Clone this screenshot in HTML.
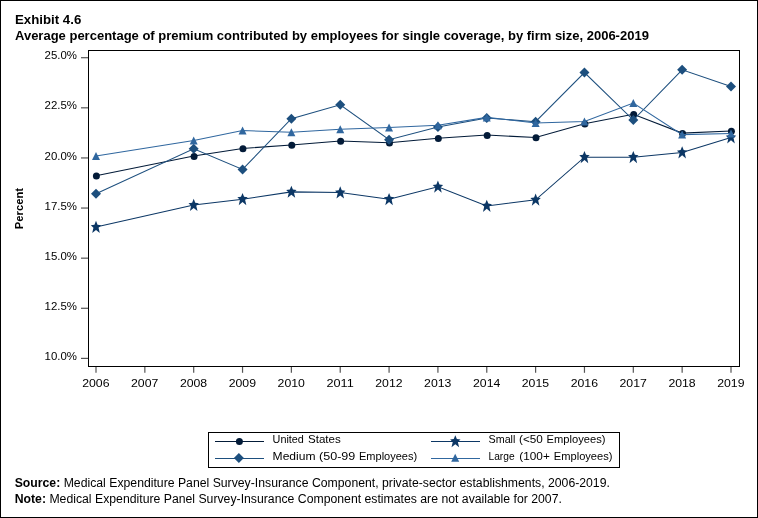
<!DOCTYPE html>
<html><head><meta charset="utf-8"><title>Exhibit 4.6</title>
<style>
html,body{margin:0;padding:0;background:#fff;}
body{width:758px;height:518px;position:relative;overflow:hidden;font-family:"Liberation Sans",sans-serif;}
#b{position:absolute;left:0;top:0;width:756px;height:516px;border:1px solid #000;}
</style></head><body>
<div id="b"></div>
<svg width="758" height="518" viewBox="0 0 758 518" style="position:absolute;left:0;top:0;will-change:transform"><rect x="88.5" y="50.5" width="651" height="316" fill="none" stroke="#000" stroke-width="1" shape-rendering="crispEdges"/><g stroke="#555" stroke-width="1.2"><line x1="81" y1="57.7" x2="88" y2="57.7"/><line x1="81" y1="107.82" x2="88" y2="107.82"/><line x1="81" y1="157.94" x2="88" y2="157.94"/><line x1="81" y1="208.05" x2="88" y2="208.05"/><line x1="81" y1="258.17" x2="88" y2="258.17"/><line x1="81" y1="308.29" x2="88" y2="308.29"/><line x1="81" y1="358.4" x2="88" y2="358.4"/><line x1="96.0" y1="367" x2="96.0" y2="372.8"/><line x1="144.85" y1="367" x2="144.85" y2="372.8"/><line x1="193.69" y1="367" x2="193.69" y2="372.8"/><line x1="242.54" y1="367" x2="242.54" y2="372.8"/><line x1="291.38" y1="367" x2="291.38" y2="372.8"/><line x1="340.23" y1="367" x2="340.23" y2="372.8"/><line x1="389.08" y1="367" x2="389.08" y2="372.8"/><line x1="437.92" y1="367" x2="437.92" y2="372.8"/><line x1="486.77" y1="367" x2="486.77" y2="372.8"/><line x1="535.61" y1="367" x2="535.61" y2="372.8"/><line x1="584.46" y1="367" x2="584.46" y2="372.8"/><line x1="633.31" y1="367" x2="633.31" y2="372.8"/><line x1="682.15" y1="367" x2="682.15" y2="372.8"/><line x1="731.0" y1="367" x2="731.0" y2="372.8"/></g><g font-family="Liberation Sans, sans-serif" font-size="11" fill="#000"><text x="44.6" y="59.3" textLength="32.4" lengthAdjust="spacingAndGlyphs">25.0%</text><text x="44.6" y="109.4" textLength="32.4" lengthAdjust="spacingAndGlyphs">22.5%</text><text x="44.6" y="159.5" textLength="32.4" lengthAdjust="spacingAndGlyphs">20.0%</text><text x="44.6" y="209.7" textLength="32.4" lengthAdjust="spacingAndGlyphs">17.5%</text><text x="44.6" y="259.8" textLength="32.4" lengthAdjust="spacingAndGlyphs">15.0%</text><text x="44.6" y="309.9" textLength="32.4" lengthAdjust="spacingAndGlyphs">12.5%</text><text x="44.6" y="360.0" textLength="32.4" lengthAdjust="spacingAndGlyphs">10.0%</text><text x="82.2" y="386.9" textLength="27.3" lengthAdjust="spacingAndGlyphs">2006</text><text x="131.0" y="386.9" textLength="27.3" lengthAdjust="spacingAndGlyphs">2007</text><text x="179.9" y="386.9" textLength="27.3" lengthAdjust="spacingAndGlyphs">2008</text><text x="228.7" y="386.9" textLength="27.3" lengthAdjust="spacingAndGlyphs">2009</text><text x="277.6" y="386.9" textLength="27.3" lengthAdjust="spacingAndGlyphs">2010</text><text x="326.4" y="386.9" textLength="27.3" lengthAdjust="spacingAndGlyphs">2011</text><text x="375.3" y="386.9" textLength="27.3" lengthAdjust="spacingAndGlyphs">2012</text><text x="424.1" y="386.9" textLength="27.3" lengthAdjust="spacingAndGlyphs">2013</text><text x="473.0" y="386.9" textLength="27.3" lengthAdjust="spacingAndGlyphs">2014</text><text x="521.8" y="386.9" textLength="27.3" lengthAdjust="spacingAndGlyphs">2015</text><text x="570.7" y="386.9" textLength="27.3" lengthAdjust="spacingAndGlyphs">2016</text><text x="619.5" y="386.9" textLength="27.3" lengthAdjust="spacingAndGlyphs">2017</text><text x="668.4" y="386.9" textLength="27.3" lengthAdjust="spacingAndGlyphs">2018</text><text x="717.2" y="386.9" textLength="27.3" lengthAdjust="spacingAndGlyphs">2019</text></g><text transform="translate(23.2,229.2) rotate(-90)" textLength="41.2" lengthAdjust="spacingAndGlyphs" font-family="Liberation Sans, sans-serif" font-weight="bold" font-size="11" fill="#000">Percent</text><polyline fill="none" stroke="#031b38" stroke-width="1.05" points="96.00,175.70 193.69,156.10 242.54,148.40 291.38,145.00 340.23,141.00 389.08,142.80 437.92,138.20 486.77,135.10 535.61,137.40 584.46,123.80 633.31,114.20 682.15,133.10 731.00,131.00"/><circle cx="96.40" cy="176.00" r="3.5" fill="#031b38"/><circle cx="194.09" cy="156.40" r="3.5" fill="#031b38"/><circle cx="242.94" cy="148.70" r="3.5" fill="#031b38"/><circle cx="291.78" cy="145.30" r="3.5" fill="#031b38"/><circle cx="340.63" cy="141.30" r="3.5" fill="#031b38"/><circle cx="389.48" cy="143.10" r="3.5" fill="#031b38"/><circle cx="438.32" cy="138.50" r="3.5" fill="#031b38"/><circle cx="487.17" cy="135.40" r="3.5" fill="#031b38"/><circle cx="536.01" cy="137.70" r="3.5" fill="#031b38"/><circle cx="584.86" cy="124.10" r="3.5" fill="#031b38"/><circle cx="633.71" cy="114.50" r="3.5" fill="#031b38"/><circle cx="682.55" cy="133.40" r="3.5" fill="#031b38"/><circle cx="731.40" cy="131.30" r="3.5" fill="#031b38"/><polyline fill="none" stroke="#0c3765" stroke-width="1.05" points="96.00,227.10 193.69,205.10 242.54,199.20 291.38,191.90 340.23,192.60 389.08,199.20 437.92,186.80 486.77,206.00 535.61,199.80 584.46,157.20 633.31,157.20 682.15,152.50 731.00,137.50"/><polygon points="96.00,220.86 97.56,224.71 101.20,225.23 98.55,227.72 99.80,233.03 96.00,229.91 92.20,233.03 93.45,227.72 90.80,225.23 94.44,224.71" fill="#0c3765"/><polygon points="193.69,198.86 195.25,202.71 198.89,203.23 196.24,205.72 197.49,211.03 193.69,207.91 189.90,211.03 191.14,205.72 188.49,203.23 192.13,202.71" fill="#0c3765"/><polygon points="242.54,192.96 244.10,196.81 247.74,197.33 245.09,199.82 246.33,205.13 242.54,202.01 238.74,205.13 239.99,199.82 237.34,197.33 240.98,196.81" fill="#0c3765"/><polygon points="291.38,185.66 292.94,189.51 296.58,190.03 293.93,192.52 295.18,197.83 291.38,194.71 287.59,197.83 288.84,192.52 286.18,190.03 289.82,189.51" fill="#0c3765"/><polygon points="340.23,186.36 341.79,190.21 345.43,190.73 342.78,193.22 344.03,198.53 340.23,195.41 336.43,198.53 337.68,193.22 335.03,190.73 338.67,190.21" fill="#0c3765"/><polygon points="389.08,192.96 390.64,196.81 394.28,197.33 391.62,199.82 392.87,205.13 389.08,202.01 385.28,205.13 386.53,199.82 383.88,197.33 387.52,196.81" fill="#0c3765"/><polygon points="437.92,180.56 439.48,184.41 443.12,184.93 440.47,187.42 441.72,192.73 437.92,189.61 434.13,192.73 435.37,187.42 432.72,184.93 436.36,184.41" fill="#0c3765"/><polygon points="486.77,199.76 488.33,203.61 491.97,204.13 489.32,206.62 490.56,211.93 486.77,208.81 482.97,211.93 484.22,206.62 481.57,204.13 485.21,203.61" fill="#0c3765"/><polygon points="535.61,193.56 537.17,197.41 540.81,197.93 538.16,200.42 539.41,205.73 535.61,202.61 531.82,205.73 533.07,200.42 530.41,197.93 534.05,197.41" fill="#0c3765"/><polygon points="584.46,150.96 586.02,154.81 589.66,155.33 587.01,157.82 588.26,163.13 584.46,160.01 580.66,163.13 581.91,157.82 579.26,155.33 582.90,154.81" fill="#0c3765"/><polygon points="633.31,150.96 634.87,154.81 638.51,155.33 635.85,157.82 637.10,163.13 633.31,160.01 629.51,163.13 630.76,157.82 628.11,155.33 631.75,154.81" fill="#0c3765"/><polygon points="682.15,146.26 683.71,150.11 687.35,150.63 684.70,153.12 685.95,158.43 682.15,155.31 678.36,158.43 679.60,153.12 676.95,150.63 680.59,150.11" fill="#0c3765"/><polygon points="731.00,131.26 732.56,135.11 736.20,135.63 733.55,138.12 734.79,143.43 731.00,140.31 727.20,143.43 728.45,138.12 725.80,135.63 729.44,135.11" fill="#0c3765"/><polyline fill="none" stroke="#1d4f7e" stroke-width="1.05" points="96.00,193.80 193.69,148.70 242.54,169.40 291.38,118.70 340.23,104.80 389.08,139.70 437.92,127.00 486.77,118.00 535.61,121.70 584.46,72.60 633.31,120.10 682.15,69.80 731.00,86.50"/><polygon points="96.00,188.80 101.00,193.80 96.00,198.80 91.00,193.80" fill="#1d4f7e"/><polygon points="193.69,143.70 198.69,148.70 193.69,153.70 188.69,148.70" fill="#1d4f7e"/><polygon points="242.54,164.40 247.54,169.40 242.54,174.40 237.54,169.40" fill="#1d4f7e"/><polygon points="291.38,113.70 296.38,118.70 291.38,123.70 286.38,118.70" fill="#1d4f7e"/><polygon points="340.23,99.80 345.23,104.80 340.23,109.80 335.23,104.80" fill="#1d4f7e"/><polygon points="389.08,134.70 394.08,139.70 389.08,144.70 384.08,139.70" fill="#1d4f7e"/><polygon points="437.92,122.00 442.92,127.00 437.92,132.00 432.92,127.00" fill="#1d4f7e"/><polygon points="486.77,113.00 491.77,118.00 486.77,123.00 481.77,118.00" fill="#1d4f7e"/><polygon points="535.61,116.70 540.61,121.70 535.61,126.70 530.61,121.70" fill="#1d4f7e"/><polygon points="584.46,67.60 589.46,72.60 584.46,77.60 579.46,72.60" fill="#1d4f7e"/><polygon points="633.31,115.10 638.31,120.10 633.31,125.10 628.31,120.10" fill="#1d4f7e"/><polygon points="682.15,64.80 687.15,69.80 682.15,74.80 677.15,69.80" fill="#1d4f7e"/><polygon points="731.00,81.50 736.00,86.50 731.00,91.50 726.00,86.50" fill="#1d4f7e"/><polyline fill="none" stroke="#30679f" stroke-width="1.05" points="96.00,156.00 193.69,140.40 242.54,130.50 291.38,132.30 340.23,129.20 389.08,127.40 437.92,125.20 486.77,117.40 535.61,122.90 584.46,121.40 633.31,103.00 682.15,134.60 731.00,133.40"/><polygon points="96.00,152.00 100.00,160.00 92.00,160.00" fill="#30679f"/><polygon points="193.69,136.40 197.69,144.40 189.69,144.40" fill="#30679f"/><polygon points="242.54,126.50 246.54,134.50 238.54,134.50" fill="#30679f"/><polygon points="291.38,128.30 295.38,136.30 287.38,136.30" fill="#30679f"/><polygon points="340.23,125.20 344.23,133.20 336.23,133.20" fill="#30679f"/><polygon points="389.08,123.40 393.08,131.40 385.08,131.40" fill="#30679f"/><polygon points="437.92,121.20 441.92,129.20 433.92,129.20" fill="#30679f"/><polygon points="486.77,113.40 490.77,121.40 482.77,121.40" fill="#30679f"/><polygon points="535.61,118.90 539.61,126.90 531.61,126.90" fill="#30679f"/><polygon points="584.46,117.40 588.46,125.40 580.46,125.40" fill="#30679f"/><polygon points="633.31,99.00 637.31,107.00 629.31,107.00" fill="#30679f"/><polygon points="682.15,130.60 686.15,138.60 678.15,138.60" fill="#30679f"/><polygon points="731.00,129.40 735.00,137.40 727.00,137.40" fill="#30679f"/><rect x="208.5" y="432.5" width="411" height="35" fill="#fff" stroke="#000" stroke-width="1" shape-rendering="crispEdges"/><line x1="215" y1="441.5" x2="264" y2="441.5" stroke="#031b38" stroke-width="1"/><circle cx="239.40" cy="441.50" r="3.5" fill="#031b38"/><line x1="215" y1="458.5" x2="264" y2="458.5" stroke="#1d4f7e" stroke-width="1"/><polygon points="238.90,453.00 243.90,458.00 238.90,463.00 233.90,458.00" fill="#1d4f7e"/><line x1="431" y1="441.5" x2="480" y2="441.5" stroke="#0c3765" stroke-width="1"/><polygon points="455.30,435.16 456.86,439.01 460.50,439.53 457.85,442.02 459.10,447.33 455.30,444.21 451.50,447.33 452.75,442.02 450.10,439.53 453.74,439.01" fill="#0c3765"/><line x1="431" y1="458.5" x2="480" y2="458.5" stroke="#30679f" stroke-width="1"/><polygon points="455.20,453.80 459.20,461.80 451.20,461.80" fill="#30679f"/><g font-family="Liberation Sans, sans-serif" font-size="11" fill="#000"><text x="272.6" y="442.9" textLength="31.3" lengthAdjust="spacingAndGlyphs">United</text><text x="308.0" y="442.9" textLength="32.8" lengthAdjust="spacingAndGlyphs">States</text><text x="272.6" y="459.9" textLength="42.9" lengthAdjust="spacingAndGlyphs">Medium</text><text x="319.0" y="459.9" textLength="36.3" lengthAdjust="spacingAndGlyphs">(50-99</text><text x="359.0" y="459.9" textLength="58.1" lengthAdjust="spacingAndGlyphs">Employees)</text><text x="488.5" y="442.9" textLength="26.9" lengthAdjust="spacingAndGlyphs">Small</text><text x="519.0" y="442.9" textLength="23.8" lengthAdjust="spacingAndGlyphs">(&lt;50</text><text x="546.6" y="442.9" textLength="58.9" lengthAdjust="spacingAndGlyphs">Employees)</text><text x="488.5" y="459.9" textLength="26.1" lengthAdjust="spacingAndGlyphs">Large</text><text x="519.3" y="459.9" textLength="30.5" lengthAdjust="spacingAndGlyphs">(100+</text><text x="553.8" y="459.9" textLength="58.7" lengthAdjust="spacingAndGlyphs">Employees)</text></g><g font-family="Liberation Sans, sans-serif" font-size="13" font-weight="bold" fill="#000"><text x="15.0" y="23.8" textLength="66.3" lengthAdjust="spacingAndGlyphs">Exhibit 4.6</text><text x="15.0" y="40.3">Average percentage of premium contributed by employees for single coverage, by firm size, 2006-2019</text></g><g font-family="Liberation Sans, sans-serif" font-size="12" fill="#000"><text x="14.7" y="486.8" textLength="595.2" lengthAdjust="spacingAndGlyphs"><tspan font-weight="bold">Source:</tspan> Medical Expenditure Panel Survey-Insurance Component, private-sector establishments, 2006-2019.</text><text x="14.7" y="502.6" textLength="547.2" lengthAdjust="spacingAndGlyphs"><tspan font-weight="bold">Note:</tspan> Medical Expenditure Panel Survey-Insurance Component estimates are not available for 2007.</text></g></svg>
</body></html>
